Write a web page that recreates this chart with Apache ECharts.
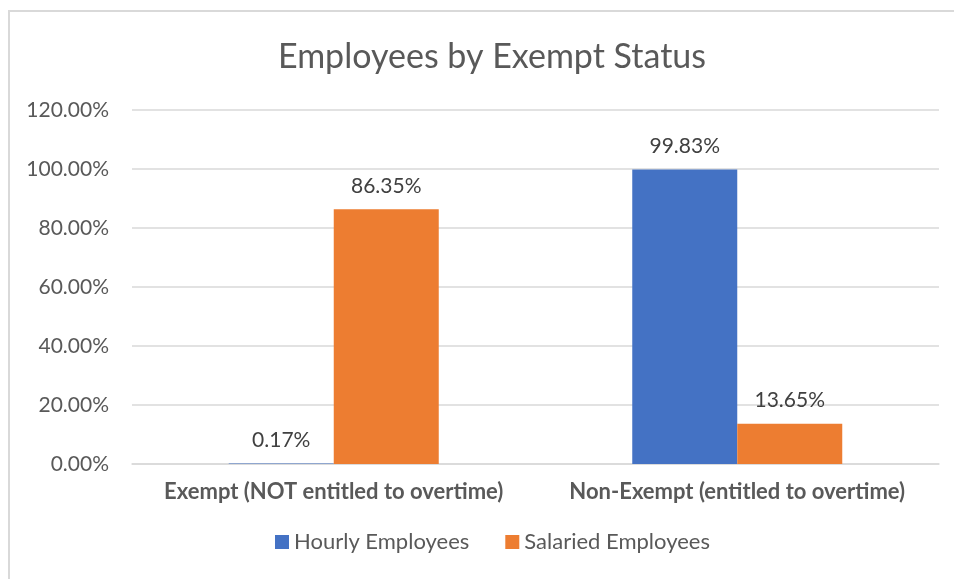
<!DOCTYPE html>
<html>
<head>
<meta charset="utf-8">
<title>Employees by Exempt Status</title>
<script src="https://cdn.jsdelivr.net/npm/echarts@6/dist/echarts.min.js"></script>
<style>
  html, body { margin: 0; padding: 0; background: #fff; }
  #wrap { position: relative; width: 954px; height: 579px; overflow: hidden; }
  #frame {
    position: absolute; left: 8px; top: 10px; width: 1000px; height: 700px;
    border-top: 2px solid #d9d9d9; border-left: 2px solid #d9d9d9;
    box-sizing: border-box;
  }
  #chart { position: absolute; left: 0; top: 0; width: 954px; height: 579px; }
</style>
</head>
<body>
<div id="wrap">
  <div id="frame"></div>
  <div id="chart"></div>
</div>
<script>
// data
var categories = ['Exempt (NOT entitled to overtime)', 'Non-Exempt (entitled to overtime)'];
var hourly = [0.17, 99.83];
var salaried = [86.35, 13.65];
var seriesNames = ['Hourly Employees', 'Salaried Employees'];
var colors = ['#4472c4', '#ed7d31'];

var font = 'Lato, "Open Sans", sans-serif';

var myChart = echarts.init(document.getElementById('chart'));

function pct(v) {
  return Number(v).toFixed(2) + '%';
}

var labelStyle = {
  show: true,
  position: 'top',
  distance: 13,
  color: '#404040',
  fontSize: 21,
  fontFamily: font,
  formatter: function (p) { return pct(p.value); }
};

myChart.setOption({
  animation: false,
  color: colors,
  title: {
    text: 'Employees by Exempt Status',
    left: 273,
    top: 35,
    textStyle: {
      color: '#595959',
      fontSize: 34,
      fontWeight: 'normal',
      fontFamily: font
    }
  },
  grid: {
    left: 132,
    right: 15,
    top: 110,
    bottom: 115
  },
  legend: {
    bottom: 21,
    left: 270,
    icon: 'rect',
    itemWidth: 14,
    itemHeight: 14,
    itemGap: 36,
    textStyle: {
      color: '#595959',
      fontSize: 22,
      fontFamily: font
    },
    data: seriesNames
  },
  xAxis: {
    type: 'category',
    data: categories,
    axisTick: { show: false },
    axisLine: { lineStyle: { color: '#d9d9d9', width: 1.5 } },
    axisLabel: {
      interval: 0,
      hideOverlap: false,
      color: '#595959',
      fontSize: 22,
      fontWeight: 'bold',
      fontFamily: font,
      margin: 17
    }
  },
  yAxis: {
    type: 'value',
    min: 0,
    max: 120,
    interval: 20,
    axisLine: { show: false },
    axisTick: { show: false },
    splitLine: { lineStyle: { color: '#d9d9d9', width: 1.5 } },
    axisLabel: {
      color: '#595959',
      fontSize: 21,
      fontFamily: font,
      margin: 23,
      formatter: function (v) { return pct(v); }
    }
  },
  series: [
    {
      name: seriesNames[0],
      type: 'bar',
      data: hourly,
      barWidth: 105,
      barGap: '0%',
      label: labelStyle
    },
    {
      name: seriesNames[1],
      type: 'bar',
      data: salaried,
      barWidth: 105,
      barGap: '0%',
      label: labelStyle
    }
  ]
});
</script>
</body>
</html>
